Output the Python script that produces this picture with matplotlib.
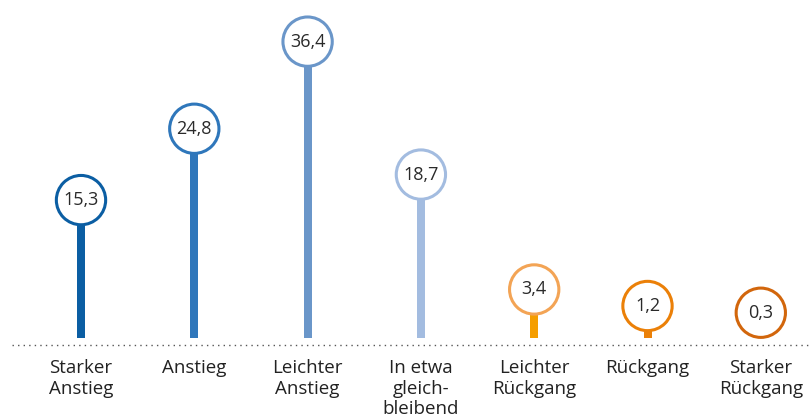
import matplotlib
matplotlib.use("Agg")
import matplotlib.pyplot as plt
from matplotlib.lines import Line2D

categories = ["Starker\nAnstieg", "Anstieg", "Leichter\nAnstieg", "In etwa\ngleich-\nbleibend",
              "Leichter\nRückgang", "Rückgang", "Starker\nRückgang"]
values = [15.3, 24.8, 36.4, 18.7, 3.4, 1.2, 0.3]
bar_colors = ["#0b5ea3", "#2f77bb", "#6a96c9", "#a3bce0", "#f59e00", "#eb8008", "#d2660c"]
ring_colors = ["#0b5ea3", "#2f77bb", "#6a96c9", "#a3bce0", "#f3a455", "#eb8008", "#d2660c"]

W, H, DPI = 811, 419, 100
fig = plt.figure(figsize=(W / DPI, H / DPI), dpi=DPI)
ax = fig.add_axes([0, 0, 1, 1])
ax.set_axis_off()

# value scale: 7.51 px per unit, zero 104 px above the bottom edge
px_per_unit = 7.51
zero_px = 104
step_px = 113.3
first_px = 81
ax.set_ylim(-zero_px / px_per_unit, (H - zero_px) / px_per_unit)
ax.set_xlim(-first_px / step_px, (W - first_px) / step_px)

x = list(range(len(values)))
stem_bottom = -3.06
ax.bar(x, [v - stem_bottom for v in values], bottom=stem_bottom,
       width=8 / step_px, color=bar_colors, zorder=2)

# lollipop heads
ax.scatter(x, values, s=35.5 ** 2, facecolor="white", edgecolor=ring_colors,
           linewidths=2.2, zorder=3)
font = "Open Sans"
for xi, v in zip(x, values):
    ax.text(xi, v, f"{v:.1f}".replace(".", ","), ha="center", va="center",
            fontsize=13, color="#2a2a2a", family=font, zorder=4)

# dotted baseline
base_y = -4.0
ax.add_line(Line2D([-0.609, 7], [base_y, base_y], color="#555555", lw=1.0,
                   linestyle=(0, (1, 3)), zorder=1))

for xi, lab in zip(x, categories):
    ax.text(xi, -5.9, lab, ha="center", va="top", fontsize=13.5,
            color="#222222", family=font, linespacing=1.18)

fig.savefig("out.png", dpi=DPI)
